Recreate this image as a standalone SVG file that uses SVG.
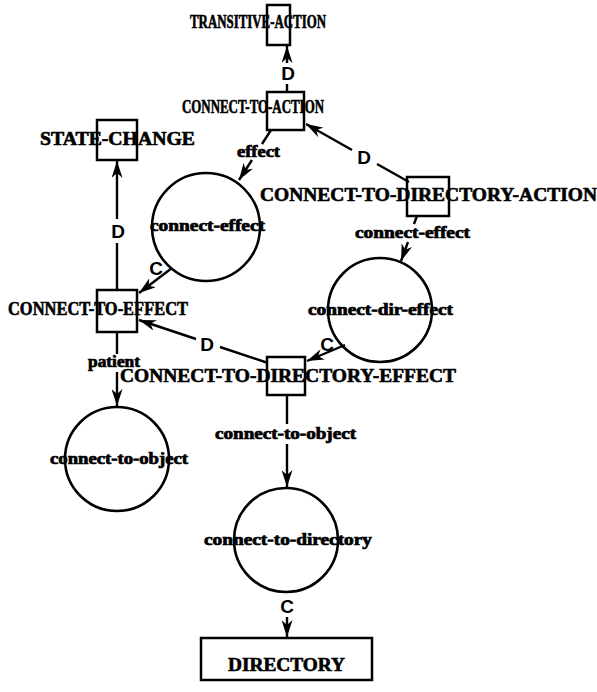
<svg xmlns="http://www.w3.org/2000/svg" width="597" height="692" viewBox="0 0 597 692">
<style>
.box{fill:none;stroke:#000;stroke-width:2.5}
.circ{fill:none;stroke:#000;stroke-width:2.6}
.big{font-family:"Liberation Serif","Times New Roman",serif;font-weight:bold;font-size:18px;fill:#000;stroke:#000;stroke-width:0.6}
.sm{font-family:"Liberation Serif","Times New Roman",serif;font-weight:bold;font-size:16px;fill:#000;stroke:#000;stroke-width:0.7}
.lbl{font-family:"Liberation Sans",Arial,sans-serif;font-weight:bold;font-size:19px;fill:#000;text-anchor:middle}
.edge{fill:none;stroke:#000;stroke-width:2.4;marker-end:url(#ah)}
</style>
<defs>
<marker id="ah" viewBox="0 0 17 11" refX="17" refY="5.5" markerWidth="17" markerHeight="11" markerUnits="userSpaceOnUse" orient="auto">
<path d="M0,0 L17,5.5 L0,11 L5,5.5 Z" fill="#000"/>
</marker>
</defs>
<g id="connectors">
<path class="edge" d="M287,92 L287,84 M287,63 L287,46"/>
<path class="edge" d="M117,290 L117,243 M117,219 L117,161"/>
<path class="edge" d="M271,130 L262,144 M252,160 L239,180"/>
<path class="edge" d="M409,182 L377,164 M352,150 L306,124"/>
<path class="edge" d="M417,216 L414,224 M408,242 L401,261"/>
<path class="edge" d="M172,268 L139,293"/>
<path class="edge" d="M345,345 L307,361"/>
<path class="edge" d="M268,363 L220,347 M196,339 L139,320"/>
<path class="edge" d="M117,332 L117,354 M117,372 L117,406"/>
<path class="edge" d="M287,395 L287,424 M287,444 L287,487"/>
<path class="edge" d="M287,617 L287,637"/>
<text class="lbl" x="288" y="80">D</text>
<text class="lbl" x="118" y="238">D</text>
<text class="lbl" x="364" y="164">D</text>
<text class="lbl" x="156" y="275">C</text>
<text class="lbl" x="207" y="351">D</text>
<text class="lbl" x="327" y="351">C</text>
<text class="lbl" x="287" y="613">C</text>
<text class="sm" x="237" y="157" textLength="43" lengthAdjust="spacingAndGlyphs">effect</text>
<text class="sm" x="355" y="238" textLength="115" lengthAdjust="spacingAndGlyphs">connect-effect</text>
<text class="sm" x="88" y="367" textLength="52" lengthAdjust="spacingAndGlyphs">patient</text>
<text class="sm" x="215" y="439" textLength="141" lengthAdjust="spacingAndGlyphs">connect-to-object</text>
</g>
<g id="transitive-action">
<rect class="box" x="267" y="5" width="23" height="40"/>
<text class="big" x="190" y="28" font-size="16" textLength="136" lengthAdjust="spacingAndGlyphs">TRANSITIVE-ACTION</text>
</g>
<g id="connect-to-action">
<rect class="box" x="267" y="92" width="37" height="38"/>
<text class="big" x="182" y="113" font-size="16" textLength="142" lengthAdjust="spacingAndGlyphs">CONNECT-TO-ACTION</text>
</g>
<g id="state-change">
<rect class="box" x="97" y="120" width="40" height="40"/>
<text class="big" x="40" y="145" textLength="155" lengthAdjust="spacingAndGlyphs">STATE-CHANGE</text>
</g>
<g id="connect-effect">
<circle class="circ" cx="206" cy="227" r="54"/>
<text class="sm" x="150" y="231" textLength="115" lengthAdjust="spacingAndGlyphs">connect-effect</text>
</g>
<g id="connect-to-directory-action">
<rect class="box" x="407" y="177" width="42" height="39"/>
<text class="big" x="260" y="201" textLength="337" lengthAdjust="spacingAndGlyphs">CONNECT-TO-DIRECTORY-ACTION</text>
</g>
<g id="connect-dir-effect">
<circle class="circ" cx="380" cy="310" r="52"/>
<text class="sm" x="308" y="315" textLength="145" lengthAdjust="spacingAndGlyphs">connect-dir-effect</text>
</g>
<g id="connect-to-effect">
<rect class="box" x="97" y="290" width="40" height="42"/>
<text class="big" x="8" y="315" textLength="180" lengthAdjust="spacingAndGlyphs">CONNECT-TO-EFFECT</text>
</g>
<g id="connect-to-directory-effect">
<rect class="box" x="267" y="357" width="38" height="38"/>
<text class="big" x="120" y="382" textLength="336" lengthAdjust="spacingAndGlyphs">CONNECT-TO-DIRECTORY-EFFECT</text>
</g>
<g id="connect-to-object">
<circle class="circ" cx="117" cy="459" r="52"/>
<text class="sm" x="50" y="464" textLength="138" lengthAdjust="spacingAndGlyphs">connect-to-object</text>
</g>
<g id="connect-to-directory">
<circle class="circ" cx="286" cy="540" r="52"/>
<text class="sm" x="204" y="545" textLength="168" lengthAdjust="spacingAndGlyphs">connect-to-directory</text>
</g>
<g id="directory">
<rect class="box" x="201" y="638" width="171" height="42"/>
<text class="big" x="228" y="671" textLength="117" lengthAdjust="spacingAndGlyphs">DIRECTORY</text>
</g>
</svg>
